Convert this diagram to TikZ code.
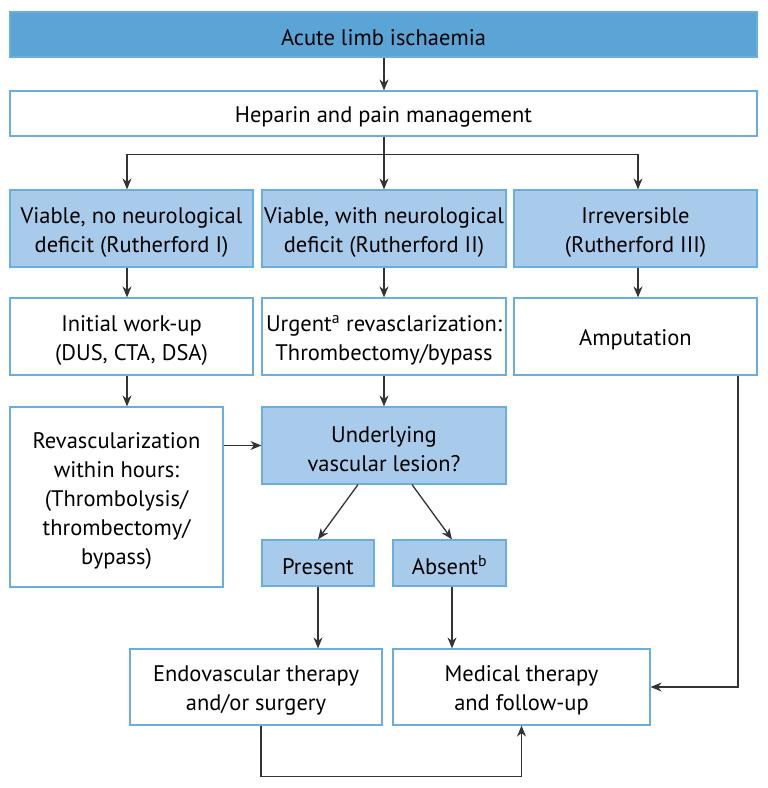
\documentclass[tikz,border=0pt]{standalone}
\usepackage{fontspec}
\setmainfont{PT Sans}
\usetikzlibrary{arrows.meta,calc}
\definecolor{darkfill}{HTML}{5BA4D6}
\definecolor{lightfill}{HTML}{A9CBEB}
\definecolor{bordercol}{HTML}{6AAEDF}
\definecolor{linecol}{HTML}{333333}
\newcommand{\fl}{\rule{0pt}{23pt}}
\tikzset{
  box/.style={draw=bordercol, line width=1.2pt, align=center, inner sep=0pt,
    font=\fontsize{22.5}{29}\selectfont, text=black},
  whitebox/.style={box, fill=white},
  lightbox/.style={box, fill=lightfill},
  darkbox/.style={box, fill=darkfill},
  arr/.style={draw=linecol, line width=1.3pt, -{Stealth[length=11pt,width=9pt]}},
  ln/.style={draw=linecol, line width=1.3pt}
}
\begin{document}
\begin{tikzpicture}[x=1pt,y=-1pt]
\useasboundingbox (0,0) rectangle (768,788);
\node[darkbox, minimum width=747, minimum height=45] (top) at (383.5,34.5) {\fl Acute limb ischaemia};
\node[whitebox, minimum width=747, minimum height=45] (hep) at (383.5,113.5) {\fl Heparin and pain management};
\node[lightbox, minimum width=243, minimum height=77] (r3a) at (131.5,228.5) {\fl Viable, no neurological\\deficit (Rutherford I)};
\node[lightbox, minimum width=244, minimum height=77] (r3b) at (384,228.5) {\fl Viable, with neurological\\deficit (Rutherford II)};
\node[lightbox, minimum width=243, minimum height=77] (r3c) at (635.5,228.5) {\fl Irreversible\\(Rutherford III)};
\node[whitebox, minimum width=243, minimum height=77] (r4a) at (131.5,336.5) {\fl Initial work-up\\(DUS, CTA, DSA)};
\node[whitebox, minimum width=244, minimum height=77] (r4b) at (384,336.5) {\fl Urgent\textsuperscript{a} revasclarization:\\Thrombectomy/bypass};
\node[whitebox, minimum width=243, minimum height=77] (r4c) at (635.5,336.5) {\fl Amputation};
\node[whitebox, minimum width=213, minimum height=180] (rev) at (116.5,497) {\fl Revascularization\\within hours:\\(Thrombolysis/\\thrombectomy/\\bypass)};
\node[lightbox, minimum width=244, minimum height=77] (und) at (384,445.5) {\fl Underlying\\vascular lesion?};
\node[lightbox, minimum width=112, minimum height=46] (pre) at (318,563) {\fl Present};
\node[lightbox, minimum width=113, minimum height=46] (abs) at (449.5,563) {\fl Absent\textsuperscript{b}};
\node[whitebox, minimum width=252, minimum height=76] (endo) at (256,687) {\fl Endovascular therapy\\and/or surgery};
\node[whitebox, minimum width=257, minimum height=76] (med) at (521.5,687) {\fl Medical therapy\\and follow-up};
% connectors
\draw[arr] (top.south -| 384,0) -- (hep.north -| 384,0);
\draw[arr] (hep.south -| 384,0) -- (r3b.north);
\coordinate (bl) at ($(r3a.north)+(-4.5,-35)$);
\coordinate (br) at ($(r3c.north)+(2.5,-35)$);
\draw[ln] (bl) -- (br);
\draw[arr] (bl) -- ($(r3a.north)+(-4.5,0)$);
\draw[arr] (br) -- ($(r3c.north)+(2.5,0)$);
\draw[arr] ($(r3a.south)+(-4.5,0)$) -- ($(r4a.north)+(-4.5,0)$);
\draw[arr] (r3b.south) -- (r4b.north);
\draw[arr] ($(r3c.south)+(2.5,0)$) -- ($(r4c.north)+(2.5,0)$);
\draw[arr] ($(r4a.south)+(-4.5,0)$) -- ($(rev.north)+(10.5,0)$);
\draw[arr] (r4b.south) -- (und.north);
\draw[arr] (rev.east |- und) -- (und.west);
\draw[arr] ($(und.south)+(-26,0)$) -- ($(pre.north)+(0,0)$);
\draw[arr] ($(und.south)+(28,0)$) -- ($(abs.north)+(2.5,0)$);
\draw[arr] (pre.south) -- (pre.south |- endo.north);
\draw[arr] ($(abs.south)+(2.5,0)$) -- ($(abs.south |- med.north)+(2.5,0)$);
\draw[arr] ($(r4c.south)+(102.5,0)$) |- (med.east);
\draw[arr] ($(endo.south)+(5,0)$) -- ++(0,51) -| (med.south);
\end{tikzpicture}
\end{document}
